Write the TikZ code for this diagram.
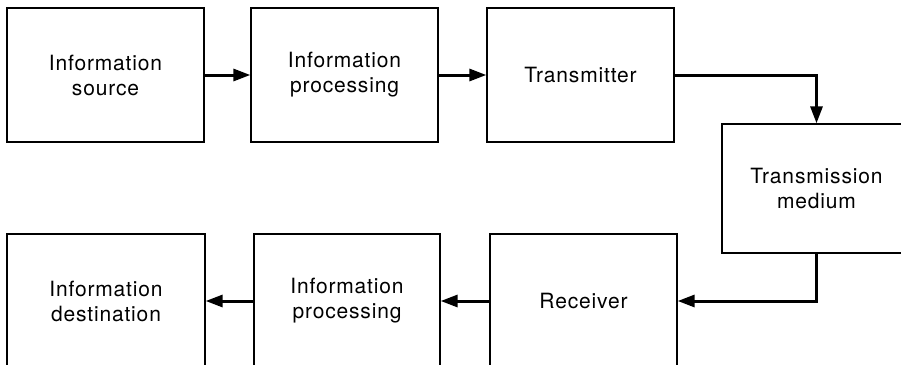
\documentclass[tikz,border=0pt]{standalone}
\usepackage{fontspec}
\setmainfont{TeX Gyre Heros}[LetterSpace=4]
\usetikzlibrary{arrows.meta}
\begin{document}
\begin{tikzpicture}[x=1pt,y=-1pt,
  blk/.style={draw=black, line width=1.3pt, minimum height=134pt,
    align=center, inner sep=0pt, font=\fontsize{21}{25}\selectfont},
  flow/.style={line width=3pt, -{Triangle[length=17pt,width=12pt]}}]
  % page frame; the lower row and the medium block run off the edges
  \useasboundingbox (0,0) rectangle (901,364);
  \clip (0,0) rectangle (901,364);

  % upper row
  \node[blk, minimum width=197pt] (src)   at (105.5,75) {Information\\source};
  \node[blk, minimum width=187pt] (proc1) at (344.5,75) {Information\\processing};
  \node[blk, minimum width=187pt] (tx)    at (580.5,75) {Transmitter};

  % channel
  \node[blk, minimum width=189pt, minimum height=129pt] (med) at (816.5,188.5) {Transmission\\medium};

  % lower row
  \node[blk, minimum width=198pt] (dst)   at (106,301)   {Information\\destination};
  \node[blk, minimum width=186pt] (proc2) at (347,301)   {Information\\processing};
  \node[blk, minimum width=187pt] (rx)    at (583.5,301) {Receiver};

  % signal flow
  \draw[flow] (src) -- (proc1);
  \draw[flow] (proc1) -- (tx);
  \draw[flow] (tx.east) -| (med.north);
  \draw[flow] (med.south) |- (rx.east);
  \draw[flow] (rx) -- (proc2);
  \draw[flow] (proc2) -- (dst);
\end{tikzpicture}
\end{document}
